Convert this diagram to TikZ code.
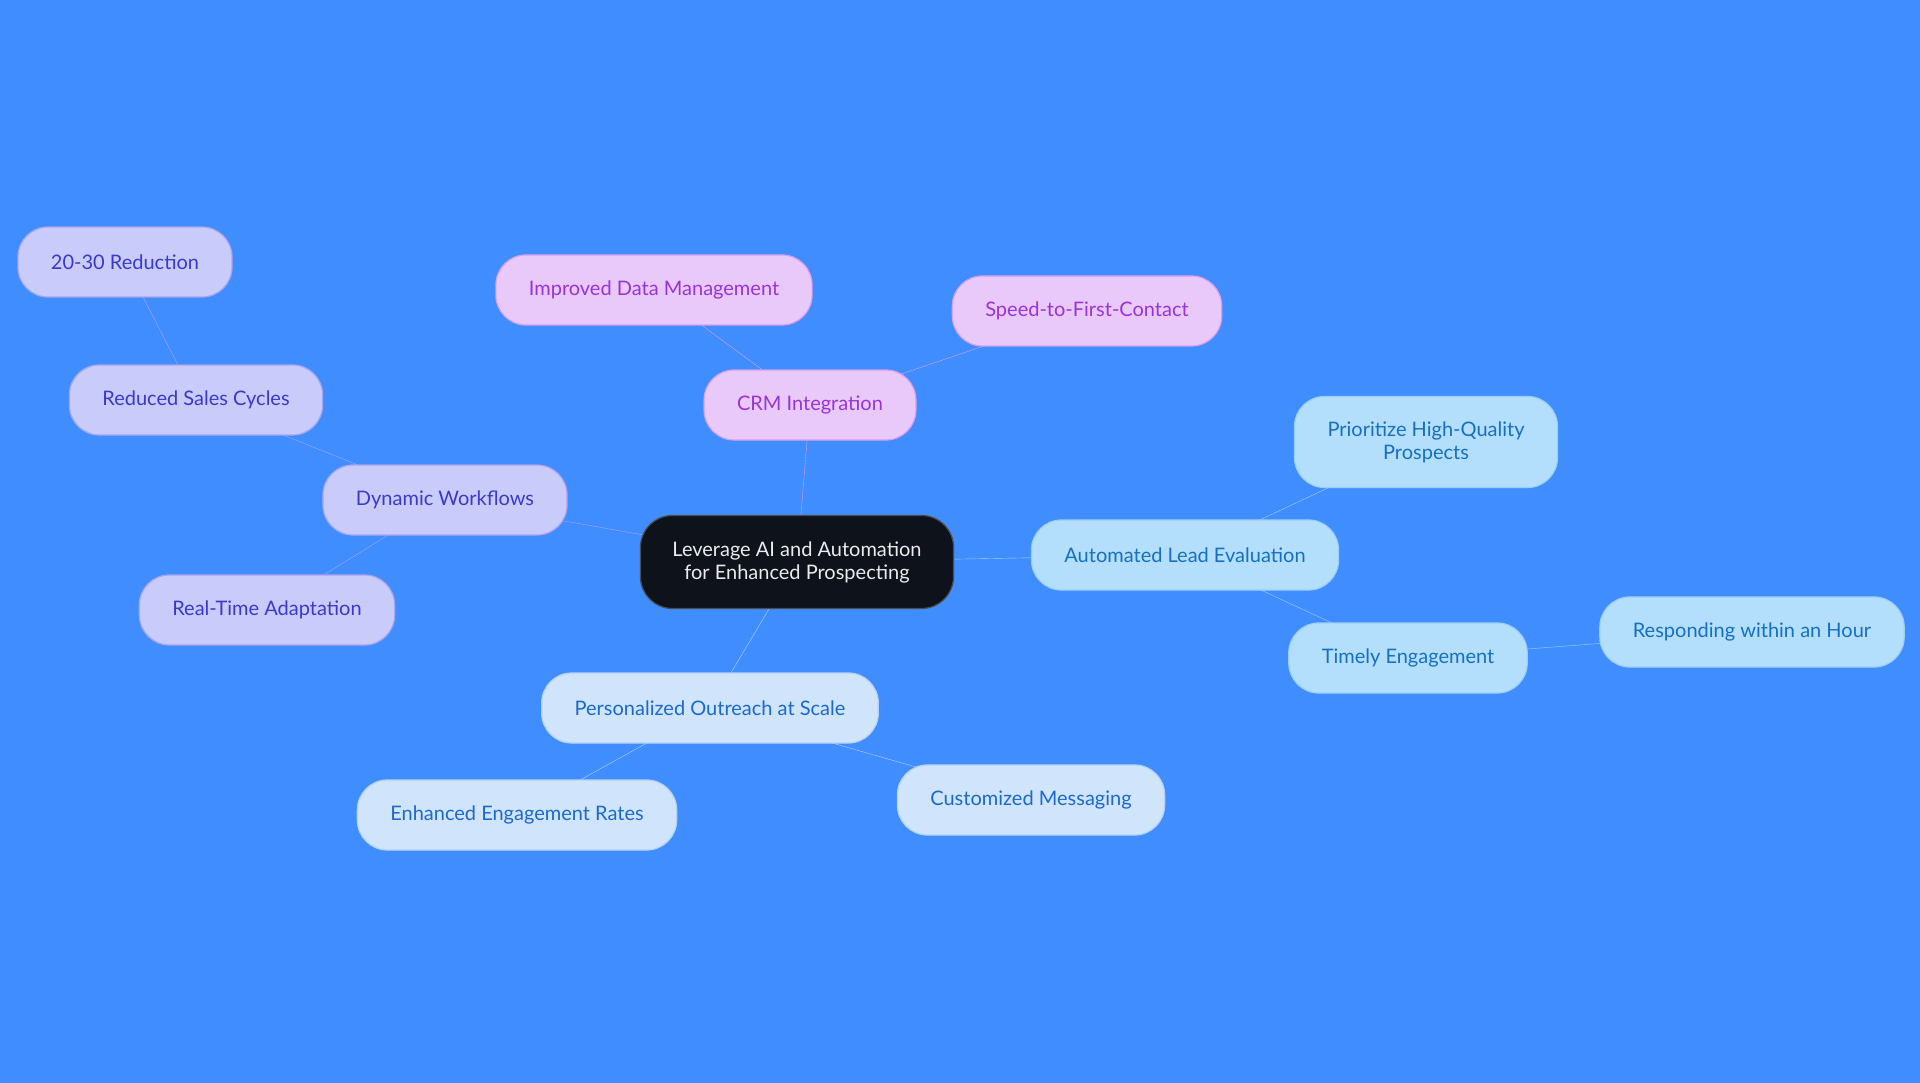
\documentclass[tikz,border=0pt]{standalone}
\usepackage{fontspec}
\setmainfont{Lato}
\usetikzlibrary{backgrounds}
\definecolor{sky}{RGB}{64, 141, 255}
\definecolor{ink}{RGB}{13, 18, 27}
\definecolor{lilacfill}{RGB}{233, 201, 250}
\definecolor{lilacline}{RGB}{214, 158, 238}
\definecolor{lilactext}{RGB}{152, 52, 214}
\definecolor{lavfill}{RGB}{201, 203, 251}
\definecolor{lavline}{RGB}{168, 164, 238}
\definecolor{lavtext}{RGB}{58, 58, 200}
\definecolor{palefill}{RGB}{208, 228, 251}
\definecolor{paleline}{RGB}{180, 210, 246}
\definecolor{paletext}{RGB}{28, 106, 200}
\definecolor{icefill}{RGB}{179, 223, 253}
\definecolor{iceline}{RGB}{156, 207, 246}
\definecolor{icetext}{RGB}{22, 112, 192}

\begin{document}
\begin{tikzpicture}[x=1pt, y=-1pt, font=\fontsize{20}{23}\selectfont,
  idea/.style={rectangle, rounded corners=30pt, minimum height=70pt, inner xsep=33pt, align=center, line width=1.2pt},
  lilac/.style={idea, fill=lilacfill, draw=lilacline, text=lilactext},
  lav/.style={idea, fill=lavfill, draw=lavline, text=lavtext},
  pale/.style={idea, fill=palefill, draw=paleline, text=paletext},
  ice/.style={idea, fill=icefill, draw=iceline, text=icetext}]

  \useasboundingbox (0, 0) rectangle (1920, 1083);

  \node[idea, fill=ink, draw=black!70, text=white!92!black, minimum height=93pt, inner xsep=32pt, rounded corners=32pt]
    (root) at (797, 562) {Leverage AI and Automation\\for Enhanced Prospecting};

  \node[lilac] (crm) at (810, 405) {CRM Integration};
  \node[lilac] (data) at (654, 290) {Improved Data Management};
  \node[lilac] (speed) at (1087, 311) {Speed-to-First-Contact};

  \node[lav] (flow) at (445, 500) {Dynamic Workflows};
  \node[lav] (cycles) at (196, 400) {Reduced Sales Cycles};
  \node[lav] (cut) at (125, 262) {20-30 Reduction};
  \node[lav] (adapt) at (267, 610) {Real-Time Adaptation};

  \node[pale] (reach) at (710, 708) {Personalized Outreach at Scale};
  \node[pale] (rates) at (517, 815) {Enhanced Engagement Rates};
  \node[pale] (msg) at (1031, 800) {Customized Messaging};

  \node[ice] (lead) at (1185, 555) {Automated Lead Evaluation};
  \node[ice, minimum height=91pt] (prio) at (1426, 442) {Prioritize High-Quality\\Prospects};
  \node[ice] (timely) at (1408, 658) {Timely Engagement};
  \node[ice] (hour) at (1752, 632) {Responding within an Hour};

  \begin{scope}[on background layer, line width=3pt]
    \fill[sky] (0, 0) rectangle (1920, 1083);
    \draw[lilacline] (root.center) -- (crm.center);
    \draw[lilacline] (crm.center) -- (data.center);
    \draw[lilacline] (crm.center) -- (speed.center);
    \draw[lavline] (root.center) -- (flow.center);
    \draw[lavline] (flow.center) -- (cycles.center);
    \draw[lavline] (cycles.center) -- (cut.center);
    \draw[lavline] (flow.center) -- (adapt.center);
    \draw[paleline] (root.center) -- (reach.center);
    \draw[paleline] (reach.center) -- (rates.center);
    \draw[paleline] (reach.center) -- (msg.center);
    \draw[iceline] (root.center) -- (lead.center);
    \draw[iceline] (lead.center) -- (prio.center);
    \draw[iceline] (lead.center) -- (timely.center);
    \draw[iceline] (timely.center) -- (hour.center);
  \end{scope}

\end{tikzpicture}
\end{document}
